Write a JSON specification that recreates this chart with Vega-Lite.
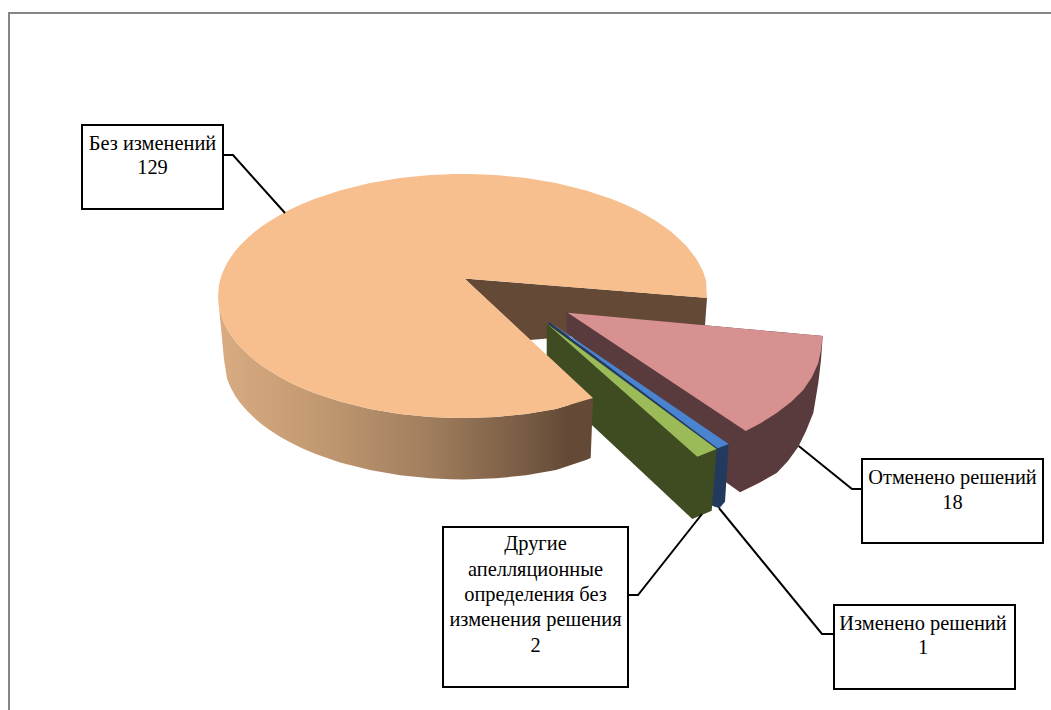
{"$schema":"https://vega.github.io/schema/vega-lite/v6.json","width":1051,"height":710,"padding":0,"autosize":{"type":"none"},"background":"#ffffff","config":{"view":{"stroke":null}},
"datasets":{
"wedge":[{"x":464.5,"y":278.5,"y2":278.5},{"x":530,"y":283.8,"y2":340},{"x":705,"y":297.8,"y2":325},{"x":707,"y":298,"y2":298}],
"pinkWall":[{"x":566.7,"y":312.7,"y2":332},{"x":726.7,"y":327.2,"y2":482.7},{"x":740,"y":328.4,"y2":492.3},{"x":758,"y":330,"y2":483.5},{"x":776.7,"y":331.8,"y2":473},{"x":788,"y":332.8,"y2":461},{"x":798.3,"y":333.8,"y2":446.7},{"x":806,"y":334.5,"y2":431},{"x":813.3,"y":335.1,"y2":413},{"x":818.3,"y":335.6,"y2":383},{"x":821,"y":335.8,"y2":360},{"x":822.7,"y":336,"y2":336}],
"pinkTop":[{"x":567.7,"y":312.7,"y2":312.7},{"x":745.7,"y":329,"y2":431},{"x":761,"y":330.3,"y2":423},{"x":776.7,"y":331.9,"y2":413},{"x":791,"y":333.1,"y2":402},{"x":803.3,"y":334.3,"y2":390},{"x":812,"y":335,"y2":377},{"x":818.3,"y":335.6,"y2":363},{"x":821,"y":335.8,"y2":350},{"x":822.7,"y":336,"y2":336}],
"navy":[{"x":549,"y":322,"y2":325},{"x":712.7,"y":442,"y2":506},{"x":719.3,"y":446,"y2":508.3},{"x":725,"y":445.5,"y2":501.7},{"x":728.7,"y":444,"y2":444}],
"blueTop":[{"x":550,"y":322.3,"y2":322.3},{"x":717.7,"y":436.5,"y2":448.3},{"x":728.7,"y":444,"y2":444}],
"greenDark":[{"x":546.7,"y":323.3,"y2":382.7},{"x":692.3,"y":430.9,"y2":519},{"x":711.7,"y":445.3,"y2":510.7},{"x":716.7,"y":449,"y2":449}],
"greenTop":[{"x":547.3,"y":324,"y2":324},{"x":697.3,"y":434.7,"y2":456.7},{"x":716.7,"y":449,"y2":449}],
"wall":[{"x":218,"y":296,"y2":297},{"x":220,"y":311.5,"y2":318},{"x":224,"y":322.8,"y2":359.5},{"x":227,"y":328.7,"y2":378.5},{"x":230,"y":333.7,"y2":386.2},{"x":235,"y":340.7,"y2":395.5},{"x":240,"y":346.5,"y2":402.7},{"x":247,"y":353.6,"y2":410.8},{"x":255,"y":360.5,"y2":418.6},{"x":262,"y":365.8,"y2":424.4},{"x":270,"y":371.1,"y2":430.3},{"x":280,"y":377.1,"y2":436.7},{"x":290,"y":382.4,"y2":442.3},{"x":302,"y":388,"y2":448.2},{"x":315,"y":393.2,"y2":453.7},{"x":340,"y":401.5,"y2":462.4},{"x":370,"y":408.9,"y2":470},{"x":400,"y":413.9,"y2":475.3},{"x":430,"y":416.9,"y2":478.3},{"x":450,"y":417.8,"y2":479.3},{"x":464,"y":418,"y2":479.5},{"x":496,"y":416.9,"y2":478.3},{"x":526,"y":413.9,"y2":475.3},{"x":556,"y":408.9,"y2":470},{"x":586,"y":400,"y2":460},{"x":590.7,"y":398.5,"y2":458},{"x":593,"y":398,"y2":398}],
"faceLow":[{"x":218,"y":296,"y2":296},{"x":219,"y":285,"y2":307},{"x":220,"y":280.5,"y2":311.5},{"x":222,"y":274,"y2":318},{"x":224,"y":269.2,"y2":322.8},{"x":227,"y":263.3,"y2":328.7},{"x":230,"y":258.3,"y2":333.7},{"x":235,"y":251.3,"y2":340.7},{"x":240,"y":245.5,"y2":346.5},{"x":247,"y":238.4,"y2":353.6},{"x":255,"y":231.5,"y2":360.5},{"x":262,"y":226.2,"y2":365.8},{"x":270,"y":220.9,"y2":371.1},{"x":280,"y":214.9,"y2":377.1},{"x":290,"y":209.6,"y2":382.4},{"x":302,"y":204,"y2":388},{"x":315,"y":198.8,"y2":393.2},{"x":340,"y":190.5,"y2":401.5},{"x":370,"y":183.1,"y2":408.9},{"x":400,"y":178.1,"y2":413.9},{"x":430,"y":175.1,"y2":416.9},{"x":450,"y":174.2,"y2":417.8},{"x":464.5,"y":174,"y2":418},{"x":464.5,"y":278.5,"y2":418},{"x":476,"y":289.2,"y2":417.8},{"x":496,"y":307.8,"y2":416.9},{"x":526,"y":335.7,"y2":413.9},{"x":556,"y":363.6,"y2":408.9},{"x":586,"y":391.5,"y2":400},{"x":593,"y":398,"y2":398}],
"faceHigh":[{"x":450,"y":174.2,"y2":278.5},{"x":464.5,"y":174,"y2":278.5},{"x":476,"y":174.2,"y2":279.4},{"x":496,"y":175.1,"y2":281},{"x":526,"y":178.1,"y2":283.4},{"x":556,"y":183.1,"y2":285.9},{"x":586,"y":190.5,"y2":288.3},{"x":611,"y":198.8,"y2":290.3},{"x":624,"y":204,"y2":291.3},{"x":636,"y":209.6,"y2":292.3},{"x":646,"y":215,"y2":293.1},{"x":656,"y":220.9,"y2":293.9},{"x":671,"y":231.5,"y2":295.1},{"x":678,"y":238,"y2":295.7},{"x":686,"y":245.5,"y2":296.3},{"x":696,"y":258.3,"y2":297.1},{"x":702,"y":269.2,"y2":297.6},{"x":704,"y":274,"y2":297.8},{"x":706,"y":280.5,"y2":297.9},{"x":707,"y":298,"y2":298}],
"boxes":[{"name":"Без изменений","value":129,"x":82,"x2":223,"y":125,"y2":209},{"name":"Отменено решений","value":18,"x":862,"x2":1043,"y":459,"y2":543},{"name":"Другие апелляционные определения без изменения решения","value":2,"x":443,"x2":628,"y":527,"y2":687},{"name":"Изменено решений","value":1,"x":834,"x2":1015,"y":605,"y2":689}],
"leaders":[{"name":"a","i":1,"x":223,"y":155},{"name":"a","i":2,"x":233,"y":155},{"name":"a","i":3,"x":285,"y":213},{"name":"b","i":1,"x":862,"y":489},{"name":"b","i":2,"x":852,"y":489},{"name":"b","i":3,"x":798.7,"y":446},{"name":"c","i":1,"x":628,"y":595},{"name":"c","i":2,"x":638,"y":595},{"name":"c","i":3,"x":702,"y":514},{"name":"d","i":1,"x":834,"y":634},{"name":"d","i":2,"x":822,"y":634},{"name":"d","i":3,"x":719,"y":508}],
"labels":[{"text":"Без изменений","x":152.5,"y":144},{"text":"129","x":152.5,"y":168},{"text":"Отменено решений","x":952.5,"y":478},{"text":"18","x":952.5,"y":503},{"text":"Другие","x":535.5,"y":544},{"text":"апелляционные","x":535.5,"y":570},{"text":"определения без","x":535.5,"y":595},{"text":"изменения решения","x":535.5,"y":620},{"text":"2","x":535.5,"y":646},{"text":"Изменено решений","x":923,"y":624},{"text":"1","x":923,"y":648}],
"frame":[{"x":9,"x2":1070,"y":13,"y2":730}]
},
"encoding":{"x":{"field":"x","type":"quantitative","scale":{"domain":[0,1051],"range":[0,1051],"nice":false,"zero":false},"axis":null},"y":{"field":"y","type":"quantitative","scale":{"domain":[0,710],"range":[0,710],"nice":false,"zero":false},"axis":null}},
"layer":[
{"data":{"name":"frame"},"mark":{"type":"rect","fill":"#ffffff","stroke":"#868686","strokeWidth":2,"clip":true},"encoding":{"x2":{"field":"x2"},"y2":{"field":"y2"}}},
{"data":{"name":"wedge"},"mark":{"type":"area","color":"#644a36"},"encoding":{"y2":{"field":"y2"}}},
{"data":{"name":"pinkWall"},"mark":{"type":"area","color":"#5a3b3d"},"encoding":{"y2":{"field":"y2"}}},
{"data":{"name":"pinkTop"},"mark":{"type":"area","color":"#d79190"},"encoding":{"y2":{"field":"y2"}}},
{"data":{"name":"navy"},"mark":{"type":"area","color":"#223a5e"},"encoding":{"y2":{"field":"y2"}}},
{"data":{"name":"blueTop"},"mark":{"type":"area","color":"#4a84d0"},"encoding":{"y2":{"field":"y2"}}},
{"data":{"name":"greenDark"},"mark":{"type":"area","color":"#3f4c22"},"encoding":{"y2":{"field":"y2"}}},
{"data":{"name":"greenTop"},"mark":{"type":"area","color":"#9bbb59"},"encoding":{"y2":{"field":"y2"}}},
{"data":{"name":"wall"},"mark":{"type":"area","color":{"gradient":"linear","x1":0,"y1":0,"x2":1,"y2":0,"stops":[{"offset":0,"color":"#d9ac82"},{"offset":0.25,"color":"#c49a72"},{"offset":0.55,"color":"#a27f5f"},{"offset":0.8,"color":"#7b5e45"},{"offset":0.93,"color":"#644a36"},{"offset":1,"color":"#644a36"}]}},"encoding":{"y2":{"field":"y2"}}},
{"data":{"name":"faceLow"},"mark":{"type":"area","color":"#f6bf8d"},"encoding":{"y2":{"field":"y2"}}},
{"data":{"name":"faceHigh"},"mark":{"type":"area","color":"#f6bf8d"},"encoding":{"y2":{"field":"y2"}}},
{"data":{"name":"leaders"},"mark":{"type":"line","color":"#000000","strokeWidth":2},"encoding":{"detail":{"field":"name"},"order":{"field":"i","type":"ordinal"}}},
{"data":{"name":"boxes"},"mark":{"type":"rect","fill":"#ffffff","stroke":"#000000","strokeWidth":2},"encoding":{"x2":{"field":"x2"},"y2":{"field":"y2"}}},
{"data":{"name":"labels"},"mark":{"type":"text","font":"Liberation Serif","fontSize":20.4,"color":"#000000","align":"center","baseline":"middle"},"encoding":{"text":{"field":"text"}}}
]}
